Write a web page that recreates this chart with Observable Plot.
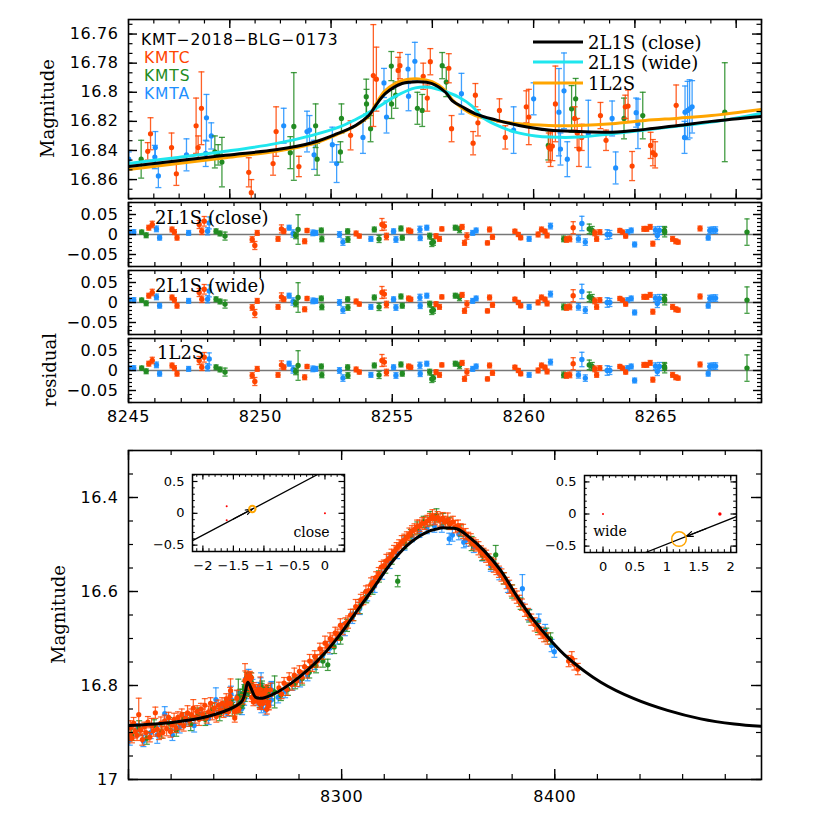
<!DOCTYPE html>
<html><head><meta charset="utf-8">
<script src="https://cdn.jsdelivr.net/npm/d3@7"></script>
<script src="https://cdn.jsdelivr.net/npm/@observablehq/plot@0.6"></script>
<style>
body{margin:0;background:#fff;}
#fig{position:relative;width:830px;height:830px;overflow:hidden;background:#fff;}
</style></head><body><div id="fig"></div><script>
// ---------- DATA: [HJD', magnitude, error] ----------
const kmtcTop = [[8245.76,16.8406,0.006],[8245.87,16.8285,0.011],[8246.70,16.838,0.010],[8246.89,16.856,0.008],[8247.67,16.823,0.019],[8247.75,16.838,0.008],[8247.88,16.811,0.025],[8249.75,16.855,0.010],[8249.85,16.869,0.009],[8250.71,16.849,0.008],[8250.83,16.827,0.017],[8251.73,16.851,0.007],[8253.77,16.8296,0.010],[8254.67,16.7885,0.035],[8254.79,16.791,0.022],[8255.65,16.785,0.009],[8255.72,16.7817,0.009],[8256.64,16.789,0.009],[8256.80,16.804,0.009],[8256.92,16.779,0.009],[8257.65,16.7835,0.010],[8257.76,16.825,0.009],[8258.61,16.835,0.008],[8258.70,16.802,0.008],[8258.80,16.821,0.009],[8259.65,16.8125,0.008],[8259.88,16.831,0.008],[8260.71,16.810,0.011],[8260.81,16.817,0.019],[8261.60,16.838,0.010],[8261.67,16.839,0.012],[8261.74,16.837,0.010],[8261.86,16.808,0.026],[8262.62,16.818,0.008],[8262.72,16.828,0.010],[8262.79,16.839,0.012],[8262.90,16.831,0.009],[8263.64,16.816,0.009],[8263.86,16.833,0.007],[8264.62,16.810,0.008],[8264.73,16.8095,0.011],[8264.89,16.8507,0.010],[8265.62,16.8365,0.009],[8265.71,16.8415,0.009],[8265.80,16.843,0.009],[8266.63,16.809,0.014]];
const kmtsTop = [[8245.50,16.846,0.013],[8248.41,16.841,0.011],[8248.54,16.843,0.007],[8248.69,16.848,0.017],[8251.39,16.8415,0.011],[8251.53,16.8235,0.037],[8252.39,16.823,0.015],[8252.45,16.846,0.011],[8253.37,16.841,0.007],[8253.41,16.818,0.010],[8254.39,16.803,0.012],[8254.40,16.808,0.010],[8254.56,16.825,0.009],[8255.38,16.782,0.010],[8255.39,16.808,0.010],[8255.55,16.802,0.009],[8256.41,16.811,0.011],[8256.60,16.8125,0.011],[8257.39,16.7817,0.009],[8257.55,16.793,0.010],[8261.58,16.8365,0.010],[8262.50,16.8114,0.016],[8262.66,16.8045,0.014],[8264.57,16.818,0.014],[8265.31,16.816,0.016],[8268.55,16.8137,0.034]];
const kmtaTop = [[8245.01,16.846,0.005],[8246.04,16.8445,0.008],[8246.06,16.838,0.011],[8246.18,16.8575,0.008],[8247.29,16.843,0.011],[8248.05,16.842,0.009],[8248.08,16.8175,0.016],[8248.27,16.830,0.009],[8251.13,16.823,0.012],[8252.05,16.827,0.014],[8252.15,16.826,0.010],[8252.33,16.843,0.010],[8253.05,16.836,0.012],[8253.22,16.849,0.013],[8254.26,16.831,0.011],[8255.09,16.7936,0.010],[8255.19,16.817,0.011],[8256.04,16.784,0.010],[8256.06,16.8027,0.010],[8256.31,16.7787,0.013],[8258.15,16.801,0.014],[8260.21,16.826,0.016],[8261.00,16.8045,0.011],[8262.00,16.8137,0.030],[8262.06,16.839,0.011],[8262.20,16.799,0.026],[8262.33,16.846,0.012],[8263.16,16.8285,0.023],[8264.10,16.818,0.012],[8264.24,16.852,0.011],[8265.05,16.814,0.010],[8265.12,16.8217,0.017],[8266.96,16.831,0.011],[8266.98,16.8137,0.018],[8267.08,16.8125,0.020],[8267.16,16.8114,0.020],[8267.26,16.810,0.018]];

// model curves, anomaly panel
const closeT = [8245,8248.83,8250.81,8252.25,8253.17,8253.97,8254.49,8254.75,8255.14,8255.80,8256.47,8256.99,8257.52,8257.78,8258.18,8258.70,8259.50,8260.42,8261.60,8262.79,8264.10,8265.41,8266.72,8268.03,8270];
const closeM = [16.851,16.8433,16.8395,16.8347,16.829,16.8228,16.816,16.8095,16.801,16.794,16.7927,16.794,16.800,16.8057,16.810,16.8148,16.819,16.8228,16.826,16.827,16.8274,16.8255,16.8228,16.820,16.8166];
const wideT = [8245,8246.85,8248.83,8250.81,8252.25,8253.31,8253.97,8254.75,8255.55,8256.33,8256.86,8257.39,8258.05,8258.57,8258.97,8259.50,8260.28,8261.08,8261.66,8262.79,8264.10,8265.41,8266.72,8268.03,8270];
const wideM = [16.849,16.845,16.8406,16.8353,16.8296,16.824,16.8187,16.8114,16.8027,16.797,16.7965,16.7988,16.8034,16.8095,16.817,16.8223,16.8274,16.830,16.8308,16.8308,16.8285,16.826,16.8232,16.8205,16.8145];
const l2sT = [8245,8248.83,8250.81,8252.25,8253.31,8253.97,8254.49,8254.75,8255.14,8255.80,8256.47,8256.99,8257.52,8257.78,8258.18,8258.70,8259.50,8260.42,8261.60,8262.79,8264.10,8265.41,8266.72,8268.03,8270];
const l2sM = [16.853,16.845,16.8406,16.8356,16.8285,16.823,16.8164,16.8087,16.7988,16.792,16.7908,16.7927,16.7988,16.805,16.811,16.816,16.8194,16.8217,16.8228,16.8228,16.8217,16.8194,16.8178,16.816,16.8118];

// residuals: [HJD', residual, error]
const kmtcRes = [[8245.77,0.017,0.006],[8245.9,0.025,0.008],[8246.65,0.0125,0.006],[8246.74,0.006,0.006],[8246.84,-0.008,0.006],[8247.68,0.025,0.01],[8247.78,0.008,0.008],[8247.87,0.033,0.012],[8249.69,-0.0125,0.007],[8249.79,-0.0275,0.01],[8249.88,0.004,0.006],[8250.67,-0.011,0.006],[8250.8,0.014,0.01],[8250.89,0.008,0.006],[8251.68,-0.017,0.006],[8251.77,0.01,0.005],[8253.63,0.0025,0.006],[8253.75,-0.004,0.005],[8254.61,0.025,0.015],[8254.7,0.021,0.01],[8254.78,-0.005,0.008],[8255.62,0.01,0.006],[8255.7,0.008,0.005],[8256.66,-0.004,0.006],[8256.79,-0.011,0.006],[8256.88,0.014,0.005],[8257.65,0.019,0.006],[8257.74,-0.021,0.006],[8257.83,-0.004,0.008],[8258.61,-0.021,0.005],[8258.69,0.0125,0.006],[8258.8,-0.006,0.006],[8259.65,0.008,0.005],[8259.78,0,0.005],[8259.87,-0.008,0.005],[8260.53,0,0.006],[8260.66,0.0125,0.006],[8260.79,0.008,0.005],[8260.87,-0.0025,0.006],[8261.6,-0.0125,0.007],[8261.73,-0.011,0.007],[8261.86,0.017,0.015],[8262.68,0.004,0.007],[8262.75,-0.011,0.006],[8262.87,0.006,0.006],[8263.63,0.01,0.005],[8263.73,0.006,0.005],[8263.85,-0.004,0.005],[8264.54,0.014,0.006],[8264.65,0.014,0.006],[8264.78,0.019,0.006],[8264.88,-0.023,0.006],[8265.63,-0.011,0.006],[8265.75,-0.017,0.006],[8265.84,-0.019,0.005],[8266.67,0.015,0.006]];
const kmtsRes = [[8245.5,0.006,0.005],[8245.67,-0.002,0.006],[8248.32,0.008,0.006],[8248.47,0.0025,0.006],[8248.66,-0.004,0.01],[8251.34,-0.0025,0.008],[8251.43,0.0125,0.037],[8252.31,0.01,0.006],[8252.33,-0.011,0.007],[8253.31,0.008,0.006],[8253.32,-0.0125,0.007],[8254.32,0.0125,0.006],[8254.5,-0.011,0.009],[8255.33,0.015,0.006],[8255.38,-0.008,0.006],[8256.42,-0.004,0.007],[8256.5,-0.021,0.009],[8256.56,-0.019,0.008],[8257.39,0.017,0.006],[8257.55,0.0125,0.008],[8261.5,-0.011,0.007],[8262.47,0.014,0.012],[8262.58,0.01,0.01],[8265.32,0.01,0.01],[8265.33,0.006,0.012],[8268.45,0.006,0.033]];
const kmtaRes = [[8245.0,0.006,0.005],[8245.2,0.006,0.006],[8246.06,0.014,0.007],[8246.18,-0.008,0.006],[8247.28,0.004,0.006],[8248.0,0.008,0.009],[8248.06,0.029,0.015],[8251.09,0.017,0.006],[8251.24,0.0025,0.009],[8251.99,0.004,0.007],[8252.1,0.004,0.006],[8253.0,0,0.007],[8253.13,-0.019,0.008],[8254.19,-0.011,0.006],[8255.05,0.008,0.006],[8255.14,-0.0125,0.007],[8256.05,0.0125,0.008],[8256.06,-0.008,0.007],[8256.31,0.017,0.006],[8258.05,0.004,0.006],[8258.18,0.01,0.006],[8260.19,-0.011,0.006],[8261.0,0.021,0.007],[8262.06,-0.011,0.008],[8262.19,0.0275,0.018],[8262.32,-0.019,0.008],[8263.15,0,0.012],[8263.25,0,0.01],[8263.93,0.006,0.006],[8264.06,0.01,0.006],[8264.19,-0.025,0.006],[8264.98,0.011,0.008],[8265.05,-0.0025,0.01],[8265.13,0.01,0.01],[8266.98,-0.008,0.006],[8267.04,0.01,0.008],[8267.16,0.011,0.008],[8267.26,0.011,0.008]];

// full light curve: points outside the anomaly window
const kmtcOuter = [[8200.2,16.905,.012],[8200.9,16.890,.015],[8201.6,16.912,.010],[8202.4,16.880,.012],[8203.1,16.898,.014],[8204.0,16.906,.011],[8204.8,16.862,.035],[8205.7,16.895,.012],[8206.5,16.915,.012],[8207.4,16.888,.010],[8208.2,16.900,.013],[8209.1,16.878,.012],[8210.0,16.910,.010],[8210.8,16.885,.015],[8211.7,16.896,.012],[8212.6,16.858,.012],[8213.5,16.893,.012],[8214.3,16.905,.010],[8215.2,16.880,.013],[8216.1,16.900,.012],[8217.0,16.875,.012],[8217.9,16.892,.015],[8218.8,16.868,.011],[8219.7,16.898,.012],[8220.5,16.884,.012],[8221.4,16.872,.013],[8222.3,16.890,.010],[8223.2,16.868,.012],[8224.1,16.880,.014],[8225.0,16.862,.012],[8225.9,16.886,.011],[8226.8,16.870,.012],[8227.7,16.858,.015],[8228.6,16.875,.012],[8229.5,16.862,.012],[8230.4,16.848,.018],[8231.3,16.868,.012],[8232.2,16.855,.012],[8233.1,16.872,.013],[8234.0,16.850,.012],[8234.9,16.862,.012],[8235.8,16.842,.014],[8236.7,16.868,.012],[8237.6,16.856,.012],[8238.5,16.838,.012],[8239.4,16.860,.013],[8240.3,16.848,.012],[8241.2,16.866,.012],[8242.1,16.842,.011],[8243.0,16.852,.012],[8243.9,16.838,.012],[8244.6,16.856,.012],
[8270.6,16.805,.012],[8271.8,16.818,.010],[8273.0,16.795,.012],[8274.2,16.808,.013],[8275.4,16.785,.012],[8276.6,16.798,.012],[8277.8,16.778,.015],[8279.0,16.790,.012],[8280.2,16.770,.012],[8281.4,16.782,.013],[8282.6,16.760,.012],[8283.8,16.772,.012],[8285.0,16.748,.014],[8286.2,16.758,.012],[8287.4,16.738,.012],[8288.6,16.748,.013],[8289.8,16.722,.012],[8291.0,16.732,.012],[8292.2,16.710,.015],[8293.4,16.718,.012],[8294.6,16.700,.012],[8295.8,16.706,.013],[8297.0,16.688,.012],[8298.2,16.692,.012],[8299.4,16.672,.014],[8300.6,16.680,.012],[8301.8,16.668,.012],[8303.0,16.665,.013],[8304.2,16.650,.012],[8305.4,16.650,.012],[8306.6,16.632,.015],[8307.8,16.635,.012],[8309.0,16.618,.012],[8310.2,16.615,.013],[8311.4,16.600,.012],[8312.6,16.598,.012],[8313.8,16.585,.014],[8315.0,16.580,.012],[8316.2,16.570,.012],[8317.4,16.562,.013],[8318.6,16.548,.012],[8319.8,16.545,.012],[8321.0,16.535,.014],[8322.2,16.530,.012],[8323.4,16.522,.012],[8324.6,16.515,.013],[8325.8,16.508,.012],[8327.0,16.502,.012],[8328.2,16.495,.014],[8329.4,16.490,.012],[8330.6,16.485,.012],[8331.8,16.478,.013],[8333.0,16.472,.012],[8334.2,16.468,.012],[8335.4,16.462,.014],[8336.6,16.460,.012],[8337.8,16.455,.012],[8339.0,16.455,.013],[8340.2,16.450,.012],[8341.4,16.446,.012],[8342.6,16.440,.014],[8343.8,16.446,.012],[8345.0,16.442,.012],[8346.2,16.448,.013],[8347.4,16.444,.012],[8348.6,16.452,.012],[8349.8,16.447,.014],[8351.0,16.456,.012],[8352.2,16.452,.012],[8353.4,16.462,.013],[8354.6,16.460,.012],[8355.8,16.468,.012],[8357.0,16.472,.015],[8358.2,16.478,.012],[8359.4,16.486,.012],[8360.6,16.490,.013],[8361.8,16.498,.012],[8363.0,16.502,.012],[8364.2,16.508,.014],[8365.4,16.515,.012],[8366.6,16.520,.012],[8367.8,16.525,.013],[8369.0,16.532,.012],[8370.2,16.540,.012],[8371.4,16.545,.014],[8372.6,16.552,.012],[8373.8,16.558,.012],[8375.0,16.565,.013],[8376.2,16.572,.012],[8377.4,16.582,.012],[8378.6,16.590,.014],[8379.8,16.598,.012],[8381.0,16.606,.012],[8382.2,16.612,.013],[8383.4,16.620,.012],[8384.6,16.628,.012],[8386.0,16.640,.013],[8387.4,16.648,.012],[8389.0,16.660,.012],[8390.6,16.670,.014],[8392.2,16.680,.012],[8393.6,16.688,.012],[8395.0,16.694,.013],[8396.6,16.700,.012],[8406.5,16.748,.012],[8408.0,16.742,.014],[8409.2,16.755,.012],[8410.8,16.765,.012]];
const kmtsOuter = [[8201.5,16.905,.012],[8205.0,16.890,.015],[8208.6,16.912,.013],[8212.0,16.885,.012],[8215.5,16.898,.014],[8219.0,16.880,.012],[8222.4,16.895,.013],[8225.8,16.870,.012],[8229.2,16.882,.014],[8232.6,16.860,.012],[8236.0,16.872,.013],[8239.4,16.850,.012],[8242.8,16.862,.013],
[8271.5,16.820,.012],[8274.8,16.808,.013],[8278.2,16.795,.012],[8281.5,16.785,.014],[8284.8,16.772,.012],[8288.0,16.758,.015],[8291.2,16.748,.013],[8293.5,16.756,.012],[8296.5,16.718,.014],[8299.5,16.700,.012],[8302.5,16.672,.013],[8305.5,16.650,.012],[8308.5,16.632,.015],[8311.5,16.612,.012],[8314.5,16.592,.014],[8317.5,16.568,.012],[8320.5,16.548,.013],[8323.5,16.530,.012],[8326.3,16.578,.012],[8329.5,16.495,.014],[8332.5,16.480,.012],[8335.5,16.465,.013],[8338.5,16.452,.012],[8341.5,16.445,.015],[8344.5,16.438,.014],[8347.5,16.446,.012],[8350.5,16.455,.013],[8356.0,16.470,.012],[8361.0,16.498,.015],[8366.0,16.522,.012],[8370.0,16.540,.013],[8372.3,16.522,.020],[8376.0,16.572,.012],[8380.0,16.600,.014],[8384.0,16.626,.012],[8388.0,16.652,.013],[8392.0,16.675,.012],[8396.0,16.692,.014],[8398.0,16.700,.012]];
const kmtaOuter = [[8200.6,16.915,.012],[8203.8,16.895,.014],[8207.0,16.918,.012],[8210.4,16.900,.013],[8213.5,16.905,.018],[8217.0,16.860,.015],[8220.6,16.905,.012],[8224.0,16.888,.013],[8227.4,16.875,.012],[8230.8,16.885,.014],[8234.2,16.862,.012],[8237.6,16.870,.013],[8241.0,16.830,.025],[8243.8,16.848,.012],
[8270.2,16.825,.012],[8273.5,16.812,.014],[8277.0,16.798,.012],[8280.5,16.790,.013],[8284.0,16.778,.012],[8287.5,16.752,.014],[8291.0,16.738,.012],[8294.5,16.720,.013],[8298.0,16.700,.012],[8301.5,16.680,.014],[8305.0,16.656,.012],[8308.5,16.636,.013],[8312.0,16.608,.012],[8315.5,16.588,.014],[8319.0,16.562,.012],[8322.5,16.538,.013],[8326.0,16.518,.012],[8329.5,16.498,.014],[8333.0,16.482,.012],[8336.5,16.472,.013],[8340.0,16.465,.012],[8343.5,16.460,.014],[8347.0,16.462,.012],[8350.5,16.488,.012],[8352.0,16.480,.013],[8355.0,16.478,.012],[8357.3,16.495,.012],[8358.5,16.490,.014],[8362.0,16.505,.012],[8366.0,16.522,.013],[8370.0,16.545,.012],[8374.0,16.562,.013],[8378.0,16.590,.012],[8384.8,16.594,.030],[8388.0,16.650,.012],[8392.5,16.662,.014],[8395.5,16.682,.012],[8398.5,16.715,.013],[8399.8,16.728,.012]];

// model, full light curve (2L1S close)
const fullT = [8200,8221.3,8237.0,8249.4,8253.4,8254.9,8256.0,8257.6,8259.6,8262.8,8268.2,8276.1,8283.9,8291.7,8299.5,8307.4,8315.2,8323.0,8330.8,8338.6,8346.5,8349.6,8354.3,8359.0,8366.8,8374.6,8382.5,8390.3,8398.1,8405.9,8421.6,8437.2,8452.9,8468.5,8484.2,8497];
const fullM = [16.885,16.878,16.866,16.846,16.832,16.811,16.793,16.807,16.825,16.827,16.818,16.796,16.768,16.733,16.690,16.640,16.591,16.541,16.502,16.477,16.465,16.465,16.467,16.481,16.513,16.555,16.612,16.662,16.704,16.740,16.793,16.828,16.853,16.871,16.882,16.887];

// insets: source trajectory, arrow, lens positions, caustic
const closeTrajX = [-2.17,-0.12], closeTrajY = [-0.43,0.61];
const closeArrow = [-1.50,-0.090,-1.19,0.067];
const closeLensX = [-1.61,-1.61,0], closeLensY = [0.11,-0.11,0], closeLensR = [1,1,1];
const closeCaustic = [-1.19,0.067];
const wideTrajX = [2.09,0.665], wideTrajY = [-0.04,-0.60];
const wideArrow = [1.62,-0.225,1.30,-0.35];
const wideLensX = [0,1.83], wideLensY = [0,0], wideLensR = [1,1.7];
const wideCaustic = [1.19,-0.39];

// ticks
const topXMajor = [8249,8253,8257,8261,8265,8269];
const topYMajor = [16.76,16.78,16.8,16.82,16.84,16.86];
const resXMajor = [8245,8250,8255,8260,8265];
const resYMajor = [-0.05,0,0.05];
const botXMajor = [8200,8300,8400], botXLabels = [8300,8400];
const botYMajor = [16.4,16.6,16.8,17];
const closeXMajor = [-2,-1.5,-1,-0.5,0], wideXMajor = [0,0.5,1,1.5,2], insetYMajor = [-0.5,0,0.5];

const C_KMTC = "#ff4500", C_KMTS = "#228b22", C_KMTA = "#1e90ff";
// ---------- helpers ----------
const fig = document.getElementById("fig");
const obj = a => a.map(([t, m, e]) => ({t, m, e}));
const fmt = d => (d < 0 ? "\u2212" : "") + String(Math.abs(+(+d).toFixed(4)));
const capSym = {draw(ctx, size) { const w = Math.sqrt(size / Math.PI); ctx.moveTo(-w, 0); ctx.lineTo(w, 0); }};
const rng = (a, b, s) => { const out = []; const n = Math.round((b - a) / s); for (let i = 0; i <= n; i++) out.push(+(a + i * s).toFixed(6)); return out; };

function errMarks(arr, color, r = 2.6, sw = 1.3, cap = 3) {
  const data = obj(arr);
  return [
    Plot.ruleX(data, {x: "t", y1: d => d.m - d.e, y2: d => d.m + d.e, stroke: color, strokeWidth: sw, strokeOpacity: 0.85, clip: true}),
    Plot.dot(data, {x: "t", y: d => d.m - d.e, symbol: capSym, r: cap, stroke: color, strokeWidth: sw, strokeOpacity: 0.85, clip: true}),
    Plot.dot(data, {x: "t", y: d => d.m + d.e, symbol: capSym, r: cap, stroke: color, strokeWidth: sw, strokeOpacity: 0.85, clip: true}),
    Plot.dot(data, {x: "t", y: "m", r, fill: color, clip: true})
  ];
}
function ticks(xs, ys, len, innerW, innerH, sw) {
  return [
    Plot.tickX(xs, {x: d => d, insetTop: innerH - len, stroke: "black", strokeWidth: sw}),
    Plot.tickX(xs, {x: d => d, insetBottom: innerH - len, stroke: "black", strokeWidth: sw}),
    Plot.tickY(ys, {y: d => d, insetRight: innerW - len, stroke: "black", strokeWidth: sw}),
    Plot.tickY(ys, {y: d => d, insetLeft: innerW - len, stroke: "black", strokeWidth: sw})
  ];
}
function place(el, left, top) {
  el.style.position = "absolute"; el.style.left = left + "px"; el.style.top = top + "px";
  fig.appendChild(el);
}
const mainStyle = {fontFamily: "DejaVu Sans", fontSize: "16px", letterSpacing: "0.6px", background: "none", color: "black", overflow: "visible"};

function mainPanel({xDomain, yDomain, reverse, frameTop, frameH, mb = 5, xMaj, xMin, yMaj, yMin, yLabels, xLabels, xPad, majLen = 9, minLen = 4.5, marks}) {
  const ml = 128, mr = 69, mt = 5, W = 830, innerW = W - ml - mr;
  const all = [
    ...marks,
    ...ticks(xMin, yMin, minLen, innerW, frameH, 1.2),
    ...ticks(xMaj, yMaj, majLen, innerW, frameH, 1.4),
    Plot.axisY(yLabels, {tickSize: 0, tickPadding: 10, tickFormat: fmt, label: null}),
    xLabels ? Plot.axisX(xLabels, {tickSize: 0, tickPadding: xPad, tickFormat: fmt, label: null}) : null,
    Plot.frame({stroke: "black", strokeWidth: 1.6})
  ];
  const el = Plot.plot({
    width: W, height: frameH + mt + mb, marginLeft: ml, marginRight: mr, marginTop: mt, marginBottom: mb,
    x: xLabels ? {domain: xDomain} : {domain: xDomain, axis: null},
    y: {domain: yDomain, reverse},
    style: mainStyle, marks: all
  });
  place(el, 0, frameTop - mt);
}

// ---------- top: anomaly ----------
mainPanel({
  xDomain: [8245, 8270], yDomain: [16.75, 16.873], reverse: true, frameTop: 19, frameH: 179,
  xMaj: topXMajor, xMin: rng(8245, 8270, 1), yMaj: topYMajor, yMin: rng(16.7533, 16.8733, 0.02 / 3), yLabels: topYMajor,
  marks: [
    ...errMarks(kmtaTop, C_KMTA), ...errMarks(kmtsTop, C_KMTS), ...errMarks(kmtcTop, C_KMTC),
    Plot.line(l2sT.map((t, i) => ({t, m: l2sM[i]})), {x: "t", y: "m", stroke: "#ffa500", strokeWidth: 3, curve: "catmull-rom", clip: true}),
    Plot.line(wideT.map((t, i) => ({t, m: wideM[i]})), {x: "t", y: "m", stroke: "#1fe6ee", strokeWidth: 3, curve: "catmull-rom", clip: true}),
    Plot.line(closeT.map((t, i) => ({t, m: closeM[i]})), {x: "t", y: "m", stroke: "black", strokeWidth: 3, curve: "catmull-rom", clip: true})
  ]
});

// ---------- residual panels ----------
const resTops = [202, 270, 338];
resTops.forEach((ft, k) => {
  const last = k === 2;
  mainPanel({
    xDomain: [8245, 8269], yDomain: [-0.08, 0.08], reverse: false, frameTop: ft, frameH: 64, mb: last ? 30 : 5,
    xMaj: resXMajor, xMin: rng(8245, 8269, 1), yMaj: resYMajor, yMin: rng(-0.08, 0.08, 0.01), yLabels: resYMajor,
    xLabels: last ? resXMajor : null, xPad: 8, majLen: 8, minLen: 4,
    marks: [
      Plot.ruleY([0], {stroke: "#777", strokeWidth: 1.5}),
      ...errMarks(kmtaRes, C_KMTA, 2.7, 1.3, 2.6), ...errMarks(kmtsRes, C_KMTS, 2.7, 1.3, 2.6), ...errMarks(kmtcRes, C_KMTC, 2.7, 1.3, 2.6)
    ]
  });
});

// ---------- bottom: full light curve ----------
mainPanel({
  xDomain: [8200, 8497], yDomain: [16.3, 17], reverse: true, frameTop: 450, frameH: 329, mb: 30,
  xMaj: botXMajor, xMin: rng(8200, 8480, 20), yMaj: botYMajor, yMin: rng(16.3, 17, 0.05), yLabels: botYMajor,
  xLabels: botXLabels, xPad: 11, majLen: 10, minLen: 5,
  marks: [
    ...errMarks(kmtaOuter.concat(kmtaTop), C_KMTA, 2.6, 1.2),
    ...errMarks(kmtsOuter.concat(kmtsTop), C_KMTS, 2.6, 1.2),
    ...errMarks(kmtcOuter.concat(kmtcTop), C_KMTC, 2.6, 1.2),
    Plot.line(fullT.map((t, i) => ({t, m: fullM[i]})), {x: "t", y: "m", stroke: "black", strokeWidth: 3, curve: "catmull-rom", clip: true})
  ]
});

// ---------- insets ----------
function inset({left, top, xDomain, yDomain, xMaj, trajX, trajY, arrow, lensX, lensY, lensR, caustic, causticR, causticW}) {
  const ml = 40, mr = 6, mt = 5, mb = 26, fw = 152, fh = 77;
  const el = Plot.plot({
    width: fw + ml + mr, height: fh + mt + mb, marginLeft: ml, marginRight: mr, marginTop: mt, marginBottom: mb,
    x: {domain: xDomain}, y: {domain: yDomain}, r: {type: "identity"},
    style: {fontFamily: "DejaVu Sans", fontSize: "13px", background: "none", color: "black", overflow: "visible"},
    marks: [
      Plot.frame({fill: "white"}),
      Plot.line(trajX.map((x, i) => ({x, y: trajY[i]})), {x: "x", y: "y", stroke: "black", strokeWidth: 1.3, clip: true}),
      Plot.arrow([arrow], {x1: d => d[0], y1: d => d[1], x2: d => d[2], y2: d => d[3], stroke: "black", strokeWidth: 1.2, headLength: 19, headAngle: 40}),
      Plot.dot(lensX.map((x, i) => ({x, y: lensY[i], r: lensR[i]})), {x: "x", y: "y", r: "r", fill: "red"}),
      Plot.dot([caustic], {x: d => d[0], y: d => d[1], r: causticR, stroke: "orange", strokeWidth: causticW, fill: "none"}),
      ...ticks(rng(Math.ceil(xDomain[0] * 10) / 10, Math.floor(xDomain[1] * 10) / 10, 0.1), rng(-0.6, 0.6, 0.1), 2.8, fw, fh, 1),
      ...ticks(xMaj, insetYMajor, 5.5, fw, fh, 1.2),
      Plot.axisY(insetYMajor, {tickSize: 0, tickPadding: 8, tickFormat: fmt, label: null}),
      Plot.axisX(xMaj, {tickSize: 0, tickPadding: 9, tickFormat: fmt, label: null}),
      Plot.frame({stroke: "black", strokeWidth: 1.5})
    ]
  });
  place(el, left - ml, top - mt);
}
inset({left: 192, top: 474, xDomain: [-2.17, 0.32], yDomain: [-0.60, 0.61], xMaj: closeXMajor,
  trajX: closeTrajX, trajY: closeTrajY, arrow: closeArrow, lensX: closeLensX, lensY: closeLensY, lensR: closeLensR,
  caustic: closeCaustic, causticR: 3.2, causticW: 2});
inset({left: 584, top: 475, xDomain: [-0.29, 2.09], yDomain: [-0.60, 0.60], xMaj: wideXMajor,
  trajX: wideTrajX, trajY: wideTrajY, arrow: wideArrow, lensX: wideLensX, lensY: wideLensY, lensR: wideLensR,
  caustic: wideCaustic, causticR: 7.3, causticW: 1.5});

// ---------- overlay text & legends ----------
const ov = d3.create("svg").attr("width", 830).attr("height", 830)
  .style("position", "absolute").style("left", "0px").style("top", "0px").style("pointer-events", "none");
const sans = "DejaVu Sans", serif = "DejaVu Serif";
const txt = (x, y, s, o = {}) => ov.append("text").attr("x", x).attr("y", y)
  .attr("font-family", o.ff || sans).attr("font-size", o.fs || 16).attr("fill", o.fill || "black")
  .attr("letter-spacing", o.ls || 0).attr("text-anchor", o.anchor || "start")
  .attr("dominant-baseline", o.base || "auto").attr("transform", o.rot ? `rotate(-90 ${x} ${y})` : null).text(s);
txt(141, 44.5, "KMT\u22122018\u2212BLG\u22120173", {fs: 15.5, ls: 0.9});
txt(144, 62.5, "KMTC", {fill: C_KMTC, fs: 15.5, ls: 0.9});
txt(144, 80.5, "KMTS", {fill: C_KMTS, fs: 15.5, ls: 0.9});
txt(144, 98.5, "KMTA", {fill: C_KMTA, fs: 15.5, ls: 0.9});
const legend = [["2L1S (close)", "black", 42], ["2L1S (wide)", "#1fe6ee", 62], ["1L2S", "#ffa500", 83]];
legend.forEach(([s, c, y]) => {
  ov.append("line").attr("x1", 533).attr("x2", 583).attr("y1", y).attr("y2", y).attr("stroke", c).attr("stroke-width", 3);
  txt(588, y, s, {ff: serif, fs: 18, base: "central"});
});
txt(47, 108.5, "Magnitude", {ff: serif, fs: 18, anchor: "middle", base: "central", rot: true});
txt(49, 370, "residual", {ff: serif, fs: 18, anchor: "middle", base: "central", rot: true});
txt(58, 614.5, "Magnitude", {ff: serif, fs: 18, anchor: "middle", base: "central", rot: true});
txt(155, 217, "2L1S (close)", {ff: serif, fs: 18, base: "central"});
txt(155, 285.5, "2L1S (wide)", {ff: serif, fs: 18, base: "central"});
txt(157, 352, "1L2S", {ff: serif, fs: 18, base: "central"});
txt(311.5, 531.5, "close", {ff: serif, fs: 14, anchor: "middle", base: "central"});
txt(610, 531, "wide", {ff: serif, fs: 14, anchor: "middle", base: "central"});
fig.appendChild(ov.node());
</script></body></html>
